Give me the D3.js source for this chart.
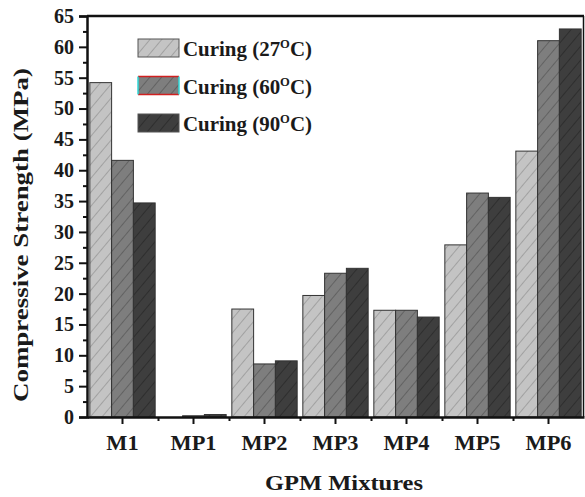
<!DOCTYPE html>
<html>
<head>
<meta charset="utf-8">
<script src="https://cdn.jsdelivr.net/npm/d3@7"></script>
<style>
  body { margin: 0; background: #fff; }
  svg text { font-family: "Liberation Serif", "Times New Roman", serif; font-weight: bold; fill: #1a1a1a; }
</style>
</head>
<body>
<div class="visualization"></div>
<script>
// data
const mixtures = ["M1", "MP1", "MP2", "MP3", "MP4", "MP5", "MP6"];
const curing27 = [54.2, 0, 17.5, 19.7, 17.3, 27.9, 43.1];
const curing60 = [41.6, 0.2, 8.6, 23.3, 17.3, 36.3, 61.0];
const curing90 = [34.7, 0.4, 9.1, 24.1, 16.2, 35.6, 62.9];
const seriesNames = ["27", "60", "90"];
const yTicks = d3.range(0, 66, 5);

const width = 585;
const height = 497;
const margin = {top: 16, right: 1, bottom: 80, left: 87};

const svg = d3.select(".visualization")
    .append("svg")
    .attr("width", width)
    .attr("height", height);

const fills = ["#c4c4c4", "#7e7e7e", "#3e3e3e"];
const hatch = ["#8a8a8a", "#4e4e4e", "#222"];

//hatch patterns, one per series
const defs = svg.append("defs");
fills.forEach((c, i) => {
  const p = defs.append("pattern")
      .attr("id", "hatch" + i)
      .attr("patternUnits", "userSpaceOnUse")
      .attr("width", 9)
      .attr("height", 9)
      .attr("patternTransform", "rotate(40)");
  p.append("rect").attr("width", 9).attr("height", 9).attr("fill", c);
  p.append("line").attr("x1", 0).attr("y1", 0).attr("x2", 0).attr("y2", 9)
      .attr("stroke", hatch[i]).attr("stroke-width", 1.2);
});

const x = d3.scaleBand()
    .domain(mixtures)
    .range([margin.left, width - margin.right]);

const xs = d3.scaleBand()
    .domain(seriesNames)
    .range([0, x.bandwidth()])
    .paddingOuter(0.13);

const y = d3.scaleLinear()
    .domain([0, 65])
    .range([height - margin.bottom, margin.top]);

const data = mixtures.map((m, i) => ({
  name: m,
  values: [curing27[i], curing60[i], curing90[i]]
}));

// bars
const group = svg.append("g")
    .selectAll("g")
    .data(data)
    .enter()
    .append("g")
    .attr("transform", d => `translate(${x(d.name)},0)`);

group.selectAll("rect")
    .data(d => d.values.map((v, j) => ({v: v, j: j})))
    .enter()
    .append("rect")
    .attr("x", d => xs(seriesNames[d.j]))
    .attr("y", d => y(d.v))
    .attr("width", xs.bandwidth())
    .attr("height", d => y(0) - y(d.v))
    .attr("fill", d => `url(#hatch${d.j})`)
    .attr("stroke", "#333")
    .attr("stroke-width", 1);

// frame (top and right)
svg.append("line")
    .attr("x1", margin.left).attr("x2", width - margin.right)
    .attr("y1", y(65)).attr("y2", y(65))
    .attr("stroke", "#111").attr("stroke-width", 2.5);
svg.append("line")
    .attr("x1", width - margin.right - 0.5).attr("x2", width - margin.right - 0.5)
    .attr("y1", y(65)).attr("y2", y(0))
    .attr("stroke", "#111").attr("stroke-width", 1.5);

// y axis
const yAxis = svg.append("g")
    .attr("transform", `translate(${margin.left},0)`)
    .call(d3.axisLeft(y).tickValues(yTicks).tickSize(8).tickPadding(5));
yAxis.append("g")
    .call(d3.axisLeft(y).tickValues(d3.range(2.5, 65, 5)).tickSize(4).tickFormat(""))
    .select(".domain").remove();
yAxis.selectAll("path.domain").attr("stroke-width", 2.5).attr("stroke", "#111");
yAxis.selectAll(".tick line").attr("stroke-width", 2).attr("stroke", "#111");
yAxis.selectAll("text")
    .attr("font-size", 20)
    .attr("fill", "#1a1a1a")
    .attr("font-family", "Liberation Serif, serif");

// x axis
const xAxis = svg.append("g")
    .attr("transform", `translate(0,${y(0)})`)
    .call(d3.axisBottom(x).tickSize(7).tickPadding(12).tickSizeOuter(0));
xAxis.append("g")
    .call(d3.axisBottom(d3.scaleLinear().domain([0, 7]).range(x.range()))
        .tickValues(d3.range(1, 7)).tickSize(4).tickFormat(""))
    .select(".domain").remove();
xAxis.selectAll("path.domain").attr("stroke-width", 2.5).attr("stroke", "#111");
xAxis.selectAll(".tick line").attr("stroke-width", 2).attr("stroke", "#111");
//the original lettering is a little stretched sideways
xAxis.selectAll("text")
    .attr("font-size", 20)
    .attr("fill", "#1a1a1a")
    .attr("font-family", "Liberation Serif, serif")
    .attr("transform", "scale(1.12,1)");

// axis titles
svg.append("text")
    .attr("transform", `translate(28,235) rotate(-90)`)
    .attr("text-anchor", "middle")
    .attr("font-size", 22)
    .attr("textLength", 334)
    .attr("lengthAdjust", "spacingAndGlyphs")
    .text("Compressive Strength (MPa)");

svg.append("text")
    .attr("x", 344)
    .attr("y", 490)
    .attr("text-anchor", "middle")
    .attr("font-size", 21)
    .attr("textLength", 158)
    .attr("lengthAdjust", "spacingAndGlyphs")
    .text("GPM Mixtures");

// legend
const legendItem = svg.append("g")
    .selectAll("g")
    .data(seriesNames)
    .enter()
    .append("g")
    .attr("transform", (d, i) => `translate(138,${39 + i * 37.5})`);

legendItem.append("rect")
    .attr("width", 41)
    .attr("height", 18)
    .attr("fill", (d, i) => `url(#hatch${i})`)
    .attr("stroke", (d, i) => i === 1 ? "none" : "#555")
    .attr("stroke-width", 1);

// the 60 patch has coloured edges in the original
const mid = legendItem.filter((d, i) => i === 1);
mid.append("path").attr("d", "M0,0H41M0,18H41").attr("stroke", "#d02020").attr("stroke-width", 1.5);
mid.append("path").attr("d", "M0,0V18M41,0V18").attr("stroke", "#30d8d8").attr("stroke-width", 1.5);

const lt = legendItem.append("text")
    .attr("x", 45)
    .attr("y", 17)
    .attr("font-size", 20)
    .attr("textLength", 129)
    .attr("lengthAdjust", "spacingAndGlyphs");
lt.append("tspan").text(d => "Curing (" + d);
lt.append("tspan").attr("dy", -8).attr("font-size", 12).text("O");
lt.append("tspan").attr("dy", 8).text("C)");
</script>
</body>
</html>
